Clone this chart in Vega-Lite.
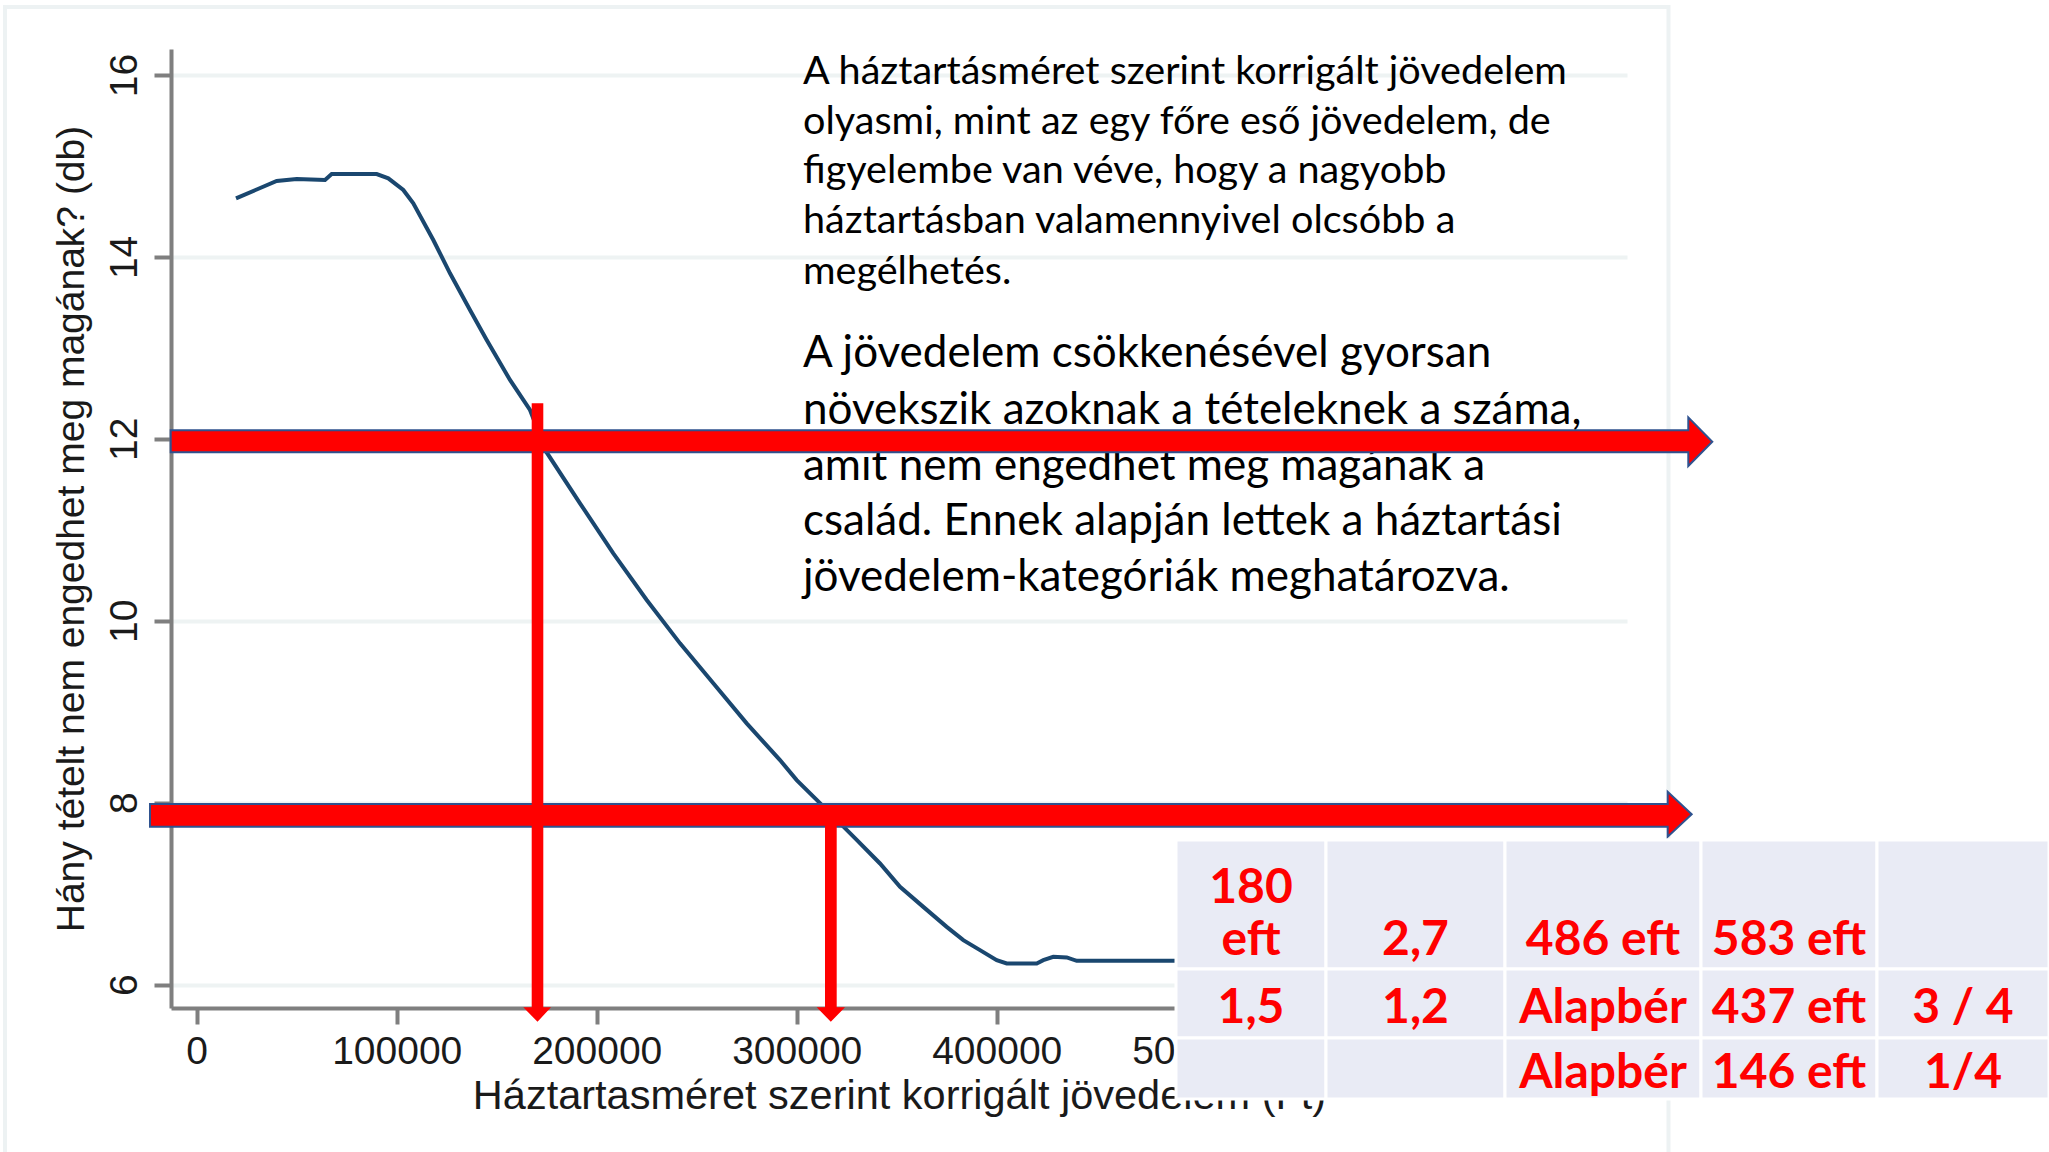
{
  "$schema": "https://vega.github.io/schema/vega-lite/v6.json",
  "autosize": {"type": "none"},
  "padding": {"left": 171, "top": 49, "right": 422, "bottom": 144},
  "width": 1456,
  "height": 959,
  "background": "#ffffff",
  "config": {
    "view": {"stroke": null},
    "axis": {
      "labelFont": "Liberation Sans",
      "titleFont": "Liberation Sans",
      "labelColor": "#1a1a1a",
      "titleColor": "#1a1a1a",
      "titleFontWeight": "normal",
      "domainColor": "#7f7f7f",
      "domainWidth": 4,
      "tickColor": "#7f7f7f",
      "tickWidth": 4
    }
  },
  "datasets": {
    "curve": [
      {"x": 19650, "y": 14.644}, {"x": 30000, "y": 14.741}, {"x": 40000, "y": 14.835},
      {"x": 50000, "y": 14.857}, {"x": 64150, "y": 14.846}, {"x": 67500, "y": 14.911},
      {"x": 90000, "y": 14.911}, {"x": 95800, "y": 14.864}, {"x": 103300, "y": 14.736},
      {"x": 108300, "y": 14.589}, {"x": 118300, "y": 14.186}, {"x": 126650, "y": 13.82},
      {"x": 136650, "y": 13.416}, {"x": 145000, "y": 13.086}, {"x": 156650, "y": 12.647},
      {"x": 166650, "y": 12.317}, {"x": 175000, "y": 11.85}, {"x": 191650, "y": 11.291},
      {"x": 208300, "y": 10.741}, {"x": 225000, "y": 10.228}, {"x": 241650, "y": 9.751},
      {"x": 258300, "y": 9.312}, {"x": 275000, "y": 8.872}, {"x": 291650, "y": 8.468},
      {"x": 300000, "y": 8.248}, {"x": 310000, "y": 8.03}, {"x": 320000, "y": 7.81},
      {"x": 330000, "y": 7.59}, {"x": 341650, "y": 7.331}, {"x": 351650, "y": 7.074},
      {"x": 363300, "y": 6.854}, {"x": 375000, "y": 6.634}, {"x": 383300, "y": 6.488},
      {"x": 391650, "y": 6.378}, {"x": 400000, "y": 6.268}, {"x": 405000, "y": 6.232},
      {"x": 420000, "y": 6.232}, {"x": 423300, "y": 6.268}, {"x": 428300, "y": 6.305},
      {"x": 435000, "y": 6.298}, {"x": 440000, "y": 6.261}, {"x": 495000, "y": 6.261}
    ],
    "frame": [{"x": -95850, "x2": 735900, "y": 16.748, "y2": 4.0}],
    "notes": [
      {"para": 1, "x": 303150, "y": 15.905, "text": "A háztartásméret szerint korrigált jövedelem"},
      {"para": 1, "x": 303150, "y": 15.35, "text": "olyasmi, mint az egy főre eső jövedelem,  de"},
      {"para": 1, "x": 303150, "y": 14.811, "text": "figyelembe van véve, hogy a nagyobb"},
      {"para": 1, "x": 303150, "y": 14.265, "text": "háztartásban valamennyivel olcsóbb a"},
      {"para": 1, "x": 303150, "y": 13.697, "text": "megélhetés."},
      {"para": 2, "x": 303150, "y": 12.792, "text": "A jövedelem csökkenésével gyorsan"},
      {"para": 2, "x": 303150, "y": 12.161, "text": "növekszik azoknak a tételeknek a száma,"},
      {"para": 2, "x": 303150, "y": 11.551, "text": "amit nem engedhet meg magának a"},
      {"para": 2, "x": 303150, "y": 10.941, "text": "család. Ennek alapján lettek a háztartási"},
      {"para": 2, "x": 303150, "y": 10.33, "text": "jövedelem-kategóriák meghatározva."}
    ],
    "harrows": [
      {"a": "A", "x": -13000, "y": 12.095, "y2": 11.852},
      {"a": "A", "x": 745800, "y": 12.095, "y2": 11.852},
      {"a": "A", "x": 745801, "y": 12.236, "y2": 11.701},
      {"a": "A", "x": 757800, "y": 11.968, "y2": 11.968},
      {"a": "B", "x": -23350, "y": 7.985, "y2": 7.735},
      {"a": "B", "x": 735500, "y": 7.985, "y2": 7.735},
      {"a": "B", "x": 735501, "y": 8.12, "y2": 7.625},
      {"a": "B", "x": 747500, "y": 7.873, "y2": 7.873}
    ],
    "varrows": [
      {"a": "C", "y": 12.39, "x": 167500, "x2": 173300},
      {"a": "C", "y": 5.7491, "x": 167500, "x2": 173300},
      {"a": "C", "y": 5.749, "x": 163300, "x2": 177150},
      {"a": "C", "y": 5.591, "x": 170400, "x2": 170400},
      {"a": "D", "y": 7.9, "x": 314150, "x2": 320000},
      {"a": "D", "y": 5.7491, "x": 314150, "x2": 320000},
      {"a": "D", "y": 5.749, "x": 310000, "x2": 324150},
      {"a": "D", "y": 5.591, "x": 317050, "x2": 317050}
    ],
    "cells": [
      {"x": 489650, "x2": 564650, "y": 7.589, "y2": 6.17},
      {"x": 564650, "x2": 654150, "y": 7.589, "y2": 6.17},
      {"x": 654150, "x2": 752150, "y": 7.589, "y2": 6.17},
      {"x": 752150, "x2": 840150, "y": 7.589, "y2": 6.17},
      {"x": 840150, "x2": 926150, "y": 7.589, "y2": 6.17},
      {"x": 489650, "x2": 564650, "y": 6.17, "y2": 5.412},
      {"x": 564650, "x2": 654150, "y": 6.17, "y2": 5.412},
      {"x": 654150, "x2": 752150, "y": 6.17, "y2": 5.412},
      {"x": 752150, "x2": 840150, "y": 6.17, "y2": 5.412},
      {"x": 840150, "x2": 926150, "y": 6.17, "y2": 5.412},
      {"x": 489650, "x2": 564650, "y": 5.412, "y2": 4.741},
      {"x": 564650, "x2": 654150, "y": 5.412, "y2": 4.741},
      {"x": 654150, "x2": 752150, "y": 5.412, "y2": 4.741},
      {"x": 752150, "x2": 840150, "y": 5.412, "y2": 4.741},
      {"x": 840150, "x2": 926150, "y": 5.412, "y2": 4.741}
    ],
    "celltext": [
      {"x": 527150, "y": 6.896, "text": "180"},
      {"x": 527150, "y": 6.324, "text": "eft"},
      {"x": 609400, "y": 6.324, "text": "2,7"},
      {"x": 703150, "y": 6.324, "text": "486 eft"},
      {"x": 796150, "y": 6.324, "text": "583 eft"},
      {"x": 527150, "y": 5.576, "text": "1,5"},
      {"x": 609400, "y": 5.576, "text": "1,2"},
      {"x": 703150, "y": 5.576, "text": "Alapbér"},
      {"x": 796150, "y": 5.576, "text": "437 eft"},
      {"x": 883150, "y": 5.576, "text": "3 / 4"},
      {"x": 703150, "y": 4.862, "text": "Alapbér"},
      {"x": 796150, "y": 4.862, "text": "146 eft"},
      {"x": 883150, "y": 4.862, "text": "1/4"}
    ]
  },
  "layer": [
    {
      "data": {"name": "curve"},
      "mark": {"type": "line", "color": "#1a476f", "strokeWidth": 4},
      "encoding": {
        "x": {
          "field": "x", "type": "quantitative",
          "scale": {"domain": [-12850, 715150], "nice": false, "zero": false},
          "title": "Háztartasméret szerint korrigált jövedelem (Ft)",
          "axis": {
            "title": "Háztartasméret szerint korrigált jövedelem (Ft)",
            "values": [0, 100000, 200000, 300000, 400000, 500000, 600000, 700000],
            "format": "d",
            "grid": false,
            "labelFontSize": 39,
            "titleFontSize": 41.5,
            "tickSize": 16,
            "labelPadding": 8,
            "titlePadding": 4,
            "labelFlush": false,
            "labelOverlap": false
          }
        },
        "y": {
          "field": "y", "type": "quantitative",
          "scale": {"domain": [5.742, 16.286], "nice": false, "zero": false},
          "title": "Hány tételt nem engedhet meg magának? (db)",
          "axis": {
            "title": "Hány tételt nem engedhet meg magának? (db)",
            "values": [6, 8, 10, 12, 14, 16],
            "format": "d",
            "grid": true,
            "gridColor": "#eef3f3",
            "gridWidth": 4,
            "labelFontSize": 39,
            "titleFontSize": 39,
            "labelAngle": -90,
            "labelAlign": "center",
            "labelBaseline": "alphabetic",
            "tickSize": 17,
            "labelPadding": 18,
            "titlePadding": 14,
            "labelFlush": false,
            "labelOverlap": false
          }
        }
      }
    },
    {
      "data": {"name": "frame"},
      "mark": {"type": "rect", "fill": null, "fillOpacity": 0, "stroke": "#edf2f3", "strokeWidth": 4},
      "encoding": {
        "x": {"field": "x", "type": "quantitative", "scale": {"domain": [-12850, 715150], "nice": false, "zero": false}, "title": "Háztartasméret szerint korrigált jövedelem (Ft)"},
        "x2": {"field": "x2"},
        "y": {"field": "y", "type": "quantitative", "scale": {"domain": [5.742, 16.286], "nice": false, "zero": false}, "title": "Hány tételt nem engedhet meg magának? (db)"},
        "y2": {"field": "y2"}
      }
    },
    {
      "data": {"name": "notes"},
      "transform": [{"filter": "datum.para == 1"}],
      "mark": {"type": "text", "font": "Lato", "fontSize": 39.6, "align": "left", "baseline": "alphabetic", "color": "#000000"},
      "encoding": {
        "x": {"field": "x", "type": "quantitative", "scale": {"domain": [-12850, 715150], "nice": false, "zero": false}, "title": "Háztartasméret szerint korrigált jövedelem (Ft)"},
        "y": {"field": "y", "type": "quantitative", "scale": {"domain": [5.742, 16.286], "nice": false, "zero": false}, "title": "Hány tételt nem engedhet meg magának? (db)"},
        "text": {"field": "text"}
      }
    },
    {
      "data": {"name": "notes"},
      "transform": [{"filter": "datum.para == 2"}],
      "mark": {"type": "text", "font": "Lato", "fontSize": 44, "align": "left", "baseline": "alphabetic", "color": "#000000"},
      "encoding": {
        "x": {"field": "x", "type": "quantitative", "scale": {"domain": [-12850, 715150], "nice": false, "zero": false}, "title": "Háztartasméret szerint korrigált jövedelem (Ft)"},
        "y": {"field": "y", "type": "quantitative", "scale": {"domain": [5.742, 16.286], "nice": false, "zero": false}, "title": "Hány tételt nem engedhet meg magának? (db)"},
        "text": {"field": "text"}
      }
    },
    {
      "data": {"name": "harrows"},
      "mark": {"type": "area", "color": "#ff0000", "fill": "#ff0000", "fillOpacity": 1, "stroke": "#2f528f", "strokeWidth": 2, "orient": "vertical"},
      "encoding": {
        "x": {"field": "x", "type": "quantitative", "scale": {"domain": [-12850, 715150], "nice": false, "zero": false}, "title": "Háztartasméret szerint korrigált jövedelem (Ft)"},
        "y": {"field": "y", "type": "quantitative", "scale": {"domain": [5.742, 16.286], "nice": false, "zero": false}, "title": "Hány tételt nem engedhet meg magának? (db)"},
        "y2": {"field": "y2"},
        "detail": {"field": "a"}
      }
    },
    {
      "data": {"name": "varrows"},
      "mark": {"type": "area", "color": "#ff0000", "fill": "#ff0000", "fillOpacity": 1, "orient": "horizontal"},
      "encoding": {
        "y": {"field": "y", "type": "quantitative", "scale": {"domain": [5.742, 16.286], "nice": false, "zero": false}, "title": "Hány tételt nem engedhet meg magának? (db)"},
        "x": {"field": "x", "type": "quantitative", "scale": {"domain": [-12850, 715150], "nice": false, "zero": false}, "title": "Háztartasméret szerint korrigált jövedelem (Ft)"},
        "x2": {"field": "x2"},
        "detail": {"field": "a"}
      }
    },
    {
      "data": {"name": "cells"},
      "mark": {"type": "rect", "fill": "#e9ebf5", "stroke": "#ffffff", "strokeWidth": 3},
      "encoding": {
        "x": {"field": "x", "type": "quantitative", "scale": {"domain": [-12850, 715150], "nice": false, "zero": false}, "title": "Háztartasméret szerint korrigált jövedelem (Ft)"},
        "x2": {"field": "x2"},
        "y": {"field": "y", "type": "quantitative", "scale": {"domain": [5.742, 16.286], "nice": false, "zero": false}, "title": "Hány tételt nem engedhet meg magának? (db)"},
        "y2": {"field": "y2"}
      }
    },
    {
      "data": {"name": "celltext"},
      "mark": {"type": "text", "font": "Lato", "fontWeight": "bold", "fontSize": 48, "align": "center", "baseline": "alphabetic", "color": "#ff0000"},
      "encoding": {
        "x": {"field": "x", "type": "quantitative", "scale": {"domain": [-12850, 715150], "nice": false, "zero": false}, "title": "Háztartasméret szerint korrigált jövedelem (Ft)"},
        "y": {"field": "y", "type": "quantitative", "scale": {"domain": [5.742, 16.286], "nice": false, "zero": false}, "title": "Hány tételt nem engedhet meg magának? (db)"},
        "text": {"field": "text"}
      }
    }
  ]
}
